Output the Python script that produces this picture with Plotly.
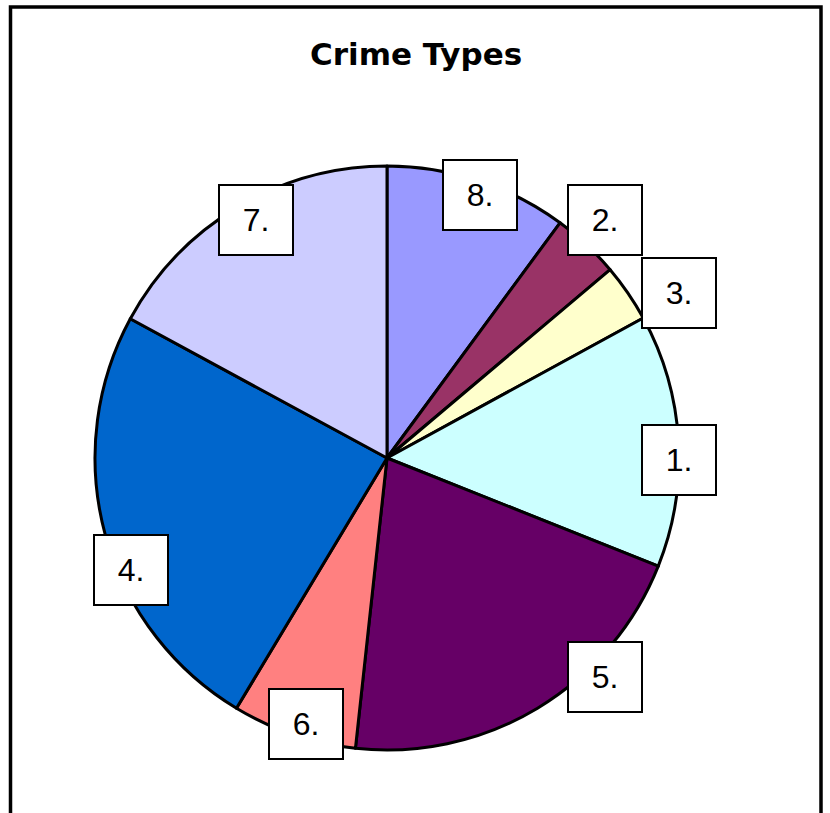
import plotly.graph_objects as go

# Data (clockwise from 12 o'clock)
categories = ["8.", "2.", "3.", "1.", "5.", "6.", "4.", "7."]
values = [10.1, 3.75, 3.2, 14.0, 20.7, 6.9, 24.3, 17.1]
colors = ["#9999FF", "#993366", "#FFFFCC", "#CCFFFF", "#660066", "#FF8080", "#0066CC", "#CCCCFF"]

# Label box centres (pixels in the 830x813 page)
label_px = {
    "8.": (480, 195.5),
    "2.": (605, 219.5),
    "3.": (679, 292.5),
    "1.": (679, 460),
    "5.": (605, 677),
    "6.": (305.5, 724),
    "4.": (131, 570),
    "7.": (255.5, 219.5),
}

W, H = 830, 813
cx, cy, r = 387, 458, 292

fig = go.Figure(go.Pie(
    labels=categories,
    values=values,
    sort=False,
    direction="clockwise",
    rotation=0,
    marker=dict(colors=colors, line=dict(color="black", width=3)),
    textinfo="none",
    hoverinfo="label+percent",
    showlegend=False,
    domain=dict(x=[(cx - r) / W, (cx + r) / W],
                y=[(H - cy - r) / H, (H - cy + r) / H]),
))

annotations = []
for lab in categories:
    px, py = label_px[lab]
    annotations.append(dict(
        text=lab, x=px / W, y=1 - py / H, xref="paper", yref="paper",
        xanchor="center", yanchor="middle", showarrow=False,
        width=72, height=68, borderpad=0, borderwidth=2,
        bordercolor="black", bgcolor="white",
        font=dict(family="Liberation Sans, Arial, sans-serif", size=32, color="black"),
    ))

annotations.append(dict(
    text="<b>Crime Types</b>", x=416 / W, y=1 - 54 / H, xref="paper", yref="paper",
    xanchor="center", yanchor="middle", showarrow=False,
    font=dict(family="DejaVu Sans, sans-serif", size=31, color="black"),
))

fig.update_layout(
    width=W, height=H,
    margin=dict(l=0, r=0, t=0, b=0),
    paper_bgcolor="white", plot_bgcolor="white",
    annotations=annotations,
    shapes=[dict(type="rect", xref="paper", yref="paper",
                 x0=10.5 / W, x1=821 / W, y0=-0.1, y1=1 - 7 / H,
                 line=dict(color="black", width=3.5), layer="above")],
)

fig.write_html("out.html")
